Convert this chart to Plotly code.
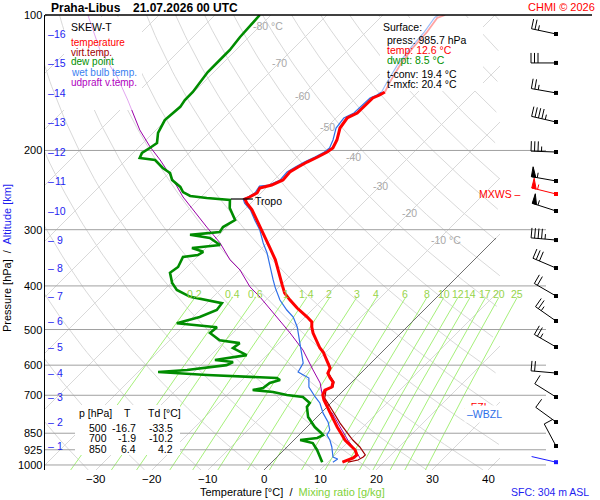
import numpy as np
import plotly.graph_objects as go

FONT = "Liberation Sans, Arial, sans-serif"

# --- sounding Praha-Libus 21.07.2026 00 UTC ---
temp_p = [985.7, 965, 950, 926, 903, 880, 858, 823.5, 782, 743, 717, 699, 681.5, 671, 654, 641,
          625, 609, 593.5, 584.5, 561, 549.6, 533, 509, 493.6, 481, 469, 448, 430, 415, 398, 382,
          350, 328, 305, 285.5, 271, 262, 256.4, 253.8, 248.6, 242.4, 238.7, 232.6, 223.3, 217.7,
          212.2, 206.8, 201.6, 197.5, 189.6, 178.3, 169.4, 165.1, 158.5, 152.9, 150.6, 148.3,
          140.9, 129.2, 118.4, 109.1, 101.5, 100]
temp_t = [12.6, 13.8, 13.9, 12.7, 10.9, 9.1, 7.7, 5.4, 2.7, 0.0, -1.8, -2.9, -3.4, -2.7, -3.4, -4.6,
          -5.9, -6.4, -7.7, -8.4, -10.5, -11.8, -13.4, -15.7, -17.0, -17.9, -19.6, -23.0, -25.7, -27.9,
          -29.8, -31.6, -35.5, -38.8, -42.5, -45.9, -48.6, -50.7, -51.8, -51.3, -50.7, -51.1, -49.5,
          -48.4, -48.6, -48.0, -47.3, -46.3, -45.5, -45.2, -45.9, -47.5, -48.0, -47.1, -47.1, -47.0,
          -46.3, -45.9, -46.8, -48.0, -48.8, -49.1, -49.8, -48.9]

dwpt_p = [985.7, 960, 926, 894, 880, 871, 858, 849, 823.5, 782, 743, 728, 706, 699, 688.5, 681.5,
          674.5, 657.5, 647.5, 641, 631, 621.5, 615, 600, 590.5, 584.5, 570, 550, 536, 528, 509, 494,
          489, 484, 469, 452.5, 437, 430, 423, 408.5, 394, 374, 363, 345, 341.5, 336, 329.5, 324.5,
          313, 308, 303.5, 296, 285.5, 268.5, 257.7, 255, 252.5, 247.4, 241, 232.6, 224.5, 218.8,
          210, 207.9, 202.6, 197.5, 192.5, 182.9, 177.4, 171.2, 160, 154.5, 148.3, 133.9, 124,
          119.6, 111.9, 106.9, 100]
dwpt_t = [9.0, 7.7, 5.9, 3.9, 1.1, 3.8, 4.3, 3.6, 1.4, -1.6, -3.6, -3.8, -6.1, -9.3, -12.3, -16.3,
          -14.8, -14.5, -13.2, -14.1, -27.1, -36.4, -31.6, -25.4, -24.8, -28.4, -23.6, -27.3, -27.0,
          -31.1, -34.1, -33.9, -37.3, -41.8, -38.8, -37.0, -37.3, -40.5, -44.1, -47.7, -49.8, -52.0,
          -51.6, -52.5, -50.2, -49.8, -52.5, -48.0, -51.1, -55.2, -50.4, -50.7, -49.8, -52.9, -54.3,
          -58.8, -62.1, -64.1, -65.5, -68.2, -69.8, -72.0, -74.8, -77.9, -78.4, -77.9, -77.5, -79.1,
          -79.6, -80.2, -79.8, -80.2, -80.2, -81.1, -81.1, -81.1, -81.6, -81.8, -82.0]

wetb_p = [985.7, 970, 960, 912, 880, 858, 836, 803, 767, 728, 706, 671, 641, 621.5, 593.5, 565,
          527.6, 493.6, 469, 452.5, 430, 404, 388, 363, 338, 321, 300.5, 285.5, 271, 262, 256.4,
          253.8, 248.6, 240, 238.7, 232.6, 223.3, 217.7, 212.2, 206.8, 201.6, 197.5, 189.6, 178.3,
          169.4, 165.1, 158.5, 152.9, 150.6, 148.3, 140.9, 129.2, 118.4, 109.1, 101.5, 100]
wetb_t = [10.9, 11.2, 10.0, 8.0, 6.4, 5.0, 4.6, 2.9, 0.4, -2.0, -3.9, -6.8, -8.4, -11.4, -12.1, -14.1,
          -16.8, -19.6, -22.1, -24.5, -27.5, -30.5, -32.3, -35.2, -38.2, -40.7, -43.6, -46.3, -48.9,
          -51.1, -52.1, -51.6, -51.1, -51.5, -50.0, -48.9, -49.1, -48.5, -47.8, -46.8, -46.0, -45.8,
          -46.6, -48.2, -48.6, -47.7, -47.6, -47.5, -46.8, -46.5, -47.3, -48.5, -49.2, -49.6, -50.3,
          -50.2]

virt_p = [985.7, 975, 960, 950, 912, 880, 845, 807, 774.5, 743, 710, 681.5, 671, 654, 641, 625,
          609, 593.5]
virt_t = [13.6, 15.0, 15.4, 15.4, 13.0, 10.5, 8.0, 5.2, 2.9, 0.5, -2.0, -3.2, -2.5, -3.2, -4.4,
          -5.8, -6.3, -7.6]

parcel_p = [965, 926, 880, 836, 803, 766.6, 747, 717, 692, 657.5, 615, 555, 509, 469, 423.4, 402,
            368.7, 350, 321, 296, 276, 253.8, 232.6, 210, 196.5, 180.1, 162.6, 154.5, 137.3,
            119.6, 100]
parcel_t = [15.0, 12.7, 9.6, 6.8, 4.5, 2.0, 0.2, -1.6, -3.4, -5.5, -9.1, -14.5, -19.8, -25.0,
            -31.6, -35.2, -40.0, -43.6, -48.4, -53.6, -57.9, -63.2, -68.0, -73.9, -78.0, -82.9,
            -87.9, -90.4, -96.4, -104.3, -112.7]

# heights 1..16 km and the wind there
alt_km = list(range(1, 17))
alt_p = [907.5, 802.7, 706.3, 624.7, 546.7, 478.7, 421.2, 365.0, 316.3, 272.6, 233.8, 201.6,
         172.9, 149.0, 127.8, 110.2]
wind_dir = [332, 306, 302, 275, 300, 305, 300, 293, 275, 288, 280, 272, 283, 280, 270, 282]
wind_kt = [10, 10, 10, 20, 25, 25, 20, 30, 45, 55, 55, 35, 45, 25, 30, 25]
mxws_p, mxws_dir, mxws_kt = 249.9, 284, 55
sfc_p, sfc_dir, sfc_kt = 985.7, 283, 2

tropo_p, tropo_t = 256.4, -51.8
fzl_p, wbzl_p = 743.0, 766.6
upper_p = 148.3          # above this the temperature is drawn faint
parcel_faint_p = 162.6

table_p = [500, 700, 850]
table_t = [-16.7, -1.9, 6.4]
table_td = [-33.5, -10.2, 4.2]

p_ticks = [100, 200, 300, 400, 500, 600, 700, 850, 925, 1000]
t_ticks = [-30, -20, -10, 0, 10, 20, 30, 40]
mix_w = [0.2, 0.4, 0.6, 1, 1.4, 2, 3, 4, 6, 8, 10, 12, 14, 17, 20, 25]
iso_label_t = [-80, -70, -60, -50, -40, -30, -20, -10]
iso_label_p = [106, 128, 151, 177, 207, 240, 275, 316]

# --- diagram geometry ---
P_BOT, P_TOP = 1026.0, 100.0
PX_DEG = 5.6
PX_LN = 195.42
SKEW = PX_LN / PX_DEG
X_LEFT, X_RIGHT = -219 / PX_DEG, 331 / PX_DEG


def skew(t, p):
    return np.asarray(t, float) + SKEW * np.log(P_BOT / np.asarray(p, float))


def X_px(x):
    return (x - 264) / PX_DEG


def px_X(X):
    return 264 + PX_DEG * X


def py_p(p):
    return 15 + PX_LN * np.log(p / P_TOP)


def paper(x, y):
    return (x - 45) / 550, (470 - y) / 455


X_CLIP = X_px(500)
GRID = "#d9d9d9"

fig = go.Figure()


def line(x, y, color, width=1, **kw):
    fig.add_trace(go.Scatter(x=x, y=y, mode="lines", line=dict(color=color, width=width),
                             hoverinfo="skip", connectgaps=False, **kw))


# isotherms
xs, ys = [], []
for t in range(-120, 50, 10):
    if t > X_CLIP:
        continue
    top = t + SKEW * np.log(P_BOT / P_TOP)
    p_end = P_TOP if top <= X_CLIP else P_BOT * np.exp(-(X_CLIP - t) / SKEW)
    xs += [t, float(skew(t, p_end)), None]
    ys += [P_BOT, p_end, None]
line(xs, ys, GRID)

# dry adiabats
pp = np.geomspace(P_BOT, P_TOP, 90)
xs, ys = [], []
for th in range(220, 470, 10):
    X = skew(th * (pp / 1000.0) ** 0.2857 - 273.15, pp)
    ok = X <= X_CLIP
    xs += list(X[ok]) + [None]
    ys += list(pp[ok]) + [None]
line(xs, ys, GRID)


def mix_td(w, p):
    e = w * p / (622.0 + w)
    a = np.log(e / 6.112)
    return 243.5 * a / (17.67 - a)


pm = np.geomspace(P_BOT, 425, 25)
xs, ys = [], []
for w in mix_w:
    xs += list(skew(mix_td(w, pm), pm)) + [None]
    ys += list(pm) + [None]
line(xs, ys, "#a6f07a")

# pressure levels
xs, ys = [], []
for p in p_ticks[1:]:
    xs += [X_LEFT, X_px(546), None]
    ys += [p, p, None]
line(xs, ys, "#a0a0a0")

# 0 degC isotherm
p0 = P_BOT * np.exp(-(X_px(496)) / SKEW)
line([0, float(skew(0, p0))], [P_BOT, p0], "#707070")


def box(x0, y0, x1, y1):
    bx = [X_px(x0), X_px(x1), X_px(x1), X_px(x0), X_px(x0)]
    by = [P_TOP * np.exp((y - 15) / PX_LN) for y in (y0, y0, y1, y1, y0)]
    fig.add_trace(go.Scatter(x=bx, y=by, mode="lines", fill="toself", fillcolor="white",
                             line=dict(width=0, color="white"), hoverinfo="skip"))


box(64, 17, 142, 110)
box(380, 18, 483, 91)
box(75, 405, 180, 455)

# profiles
pa, ta = np.array(parcel_p), np.array(parcel_t)
lo = pa >= parcel_faint_p
line(skew(ta[lo], pa[lo]), pa[lo], "#9a00a8")
line(skew(ta[pa <= parcel_faint_p], pa[pa <= parcel_faint_p]), pa[pa <= parcel_faint_p], "#e2a6f0")

line(skew(dwpt_t, dwpt_p), dwpt_p, "#008c00", 2.6)

wa, wt = np.array(wetb_p), np.array(wetb_t)
line(skew(wt[wa >= upper_p], wa[wa >= upper_p]), wa[wa >= upper_p], "#2f6fe8", 1.2)
line(skew(wt[wa <= upper_p], wa[wa <= upper_p]), wa[wa <= upper_p], "#9dbdf8", 1.2)

line(skew(virt_t, virt_p), virt_p, "#a00000", 1.2)

tp, tt = np.array(temp_p), np.array(temp_t)
line(skew(tt[tp >= upper_p], tp[tp >= upper_p]), tp[tp >= upper_p], "#ff0000", 3)
line(skew(tt[tp <= upper_p], tp[tp <= upper_p]), tp[tp <= upper_p], "#ffa3a3", 1.8)

# tropopause mark
xt = float(skew(tropo_t, tropo_p))
line([xt - 14 / PX_DEG, xt + 8 / PX_DEG], [tropo_p, tropo_p], "black", 1.2)

# wind barbs
BARB_X = 556


def barb(p0, d, kt):
    r = np.radians(d)
    u = np.array([np.sin(r), np.cos(r)])
    v = np.array([np.cos(r), -np.sin(r)])
    n5 = int(round(kt / 5.0))
    flags, rest = divmod(n5, 10)
    full, half = divmod(rest, 2)
    segs = [(np.zeros(2), 25 * u)]
    tris = []
    s = 25.0
    for _ in range(flags):
        tris.append([s * u, s * u + 10 * v, (s - 4.5) * u, s * u])
        s -= 6.0
    for _ in range(full):
        segs.append((s * u, s * u + 10 * v))
        s -= 3.5
    if half:
        segs.append((s * u, s * u + 5 * v))

    def conv(pts):
        return ([X_px(BARB_X + q[0]) for q in pts] + [None],
                [p0 * np.exp(-q[1] / PX_LN) for q in pts] + [None])
    lx, ly, fx, fy = [], [], [], []
    for sgm in segs:
        a, b = conv(sgm)
        lx += a
        ly += b
    for tr in tris:
        a, b = conv(tr)
        fx += a
        fy += b
    return lx, ly, fx, fy


def draw_barbs(ps, ds, ks, color):
    LX, LY, FX, FY = [], [], [], []
    for p, d, k in zip(ps, ds, ks):
        lx, ly, fx, fy = barb(p, d, k)
        LX += lx
        LY += ly
        FX += fx
        FY += fy
    line(LX, LY, color, 1)
    if FX:
        fig.add_trace(go.Scatter(x=FX, y=FY, mode="lines", fill="toself", fillcolor=color,
                                 line=dict(color=color, width=1), hoverinfo="skip"))
    fig.add_trace(go.Scatter(x=[X_px(BARB_X)] * len(ps), y=ps, mode="markers",
                             marker=dict(symbol="square", size=4, color=color), hoverinfo="skip"))


draw_barbs(alt_p, wind_dir, wind_kt, "black")
draw_barbs([mxws_p], [mxws_dir], [mxws_kt], "#ff0000")
draw_barbs([sfc_p], [sfc_dir], [sfc_kt], "#1a1aff")

# --- texts ---
ann = []


def text(x, y, s, color="black", size=10.5, anchor="left", **kw):
    px, py = paper(x, y)
    kw.setdefault("borderpad", 0)
    ann.append(dict(x=px, y=py, xref="paper", yref="paper", text=s, showarrow=False,
                    xanchor=anchor, yanchor="middle", font=dict(family=FONT, size=size, color=color),
                    **kw))


text(50, 8, "<b>Praha-Libus</b>", size=12)
text(132, 8, "<b>21.07.2026 00 UTC</b>", size=12)
text(596, 7, "CHMI © 2026", "#ff0000", 11, "right")

text(70, 27, "SKEW-T", size=10.5)
for i, (s, c) in enumerate([("temperature", "#ff0000"), ("virt.temp.", "#a00000"),
                            ("dew point", "#009000"), ("wet bulb temp.", "#3a7ff0"),
                            ("udpraft v.temp.", "#b000c0")]):
    text(70, 42 + 10 * i, s, c, 10)

text(382, 27, "Surface:")
text(386, 40, f"press: {sfc_p} hPa")
text(386, 50, f"temp: {temp_t[0]} °C", "#ff0000")
text(386, 60, "dwpt: 8.5 °C", "#009000")
text(386, 74, "t-conv: 19.4 °C")
text(386, 84, "t-mxfc: 20.4 °C")

text(78, 413, "p [hPa]")
text(127, 413, "T", anchor="center")
text(147, 413, "Td [°C]")
for i in range(3):
    yy = 428 + 10.3 * i
    text(108, yy, str(table_p[i]), anchor="right")
    text(137, yy, f"{table_t[i]:.1f}", anchor="right")
    text(174, yy, f"{table_td[i]:.1f}", anchor="right")

for t, p in zip(iso_label_t, iso_label_p):
    s = f"{t} °C" if t in (-80, -10) else str(t)
    text(px_X(float(skew(t, p))) - 8, py_p(p), s, "#a8a8a8", 10.5)

for w in mix_w:
    xw = px_X(float(skew(mix_td(w, 425.0), 425.0)))
    text(xw, 294, f"{w:g}", "#97d44a", 10.5, "center")

for k, p in zip(alt_km, alt_p):
    text(47, py_p(p), "–", "#1e1ef0", 10.5)
    text(60, py_p(p), str(k), "#1e1ef0", 10.5, "center")

text(254, py_p(tropo_p) + 2, "Tropo")
text(522, py_p(mxws_p), "MXWS –", "#ff0000", 10.5, "right")
text(464, py_p(fzl_p), "–FZL", "#ff0000", 10.5)
text(464, py_p(wbzl_p) + 1, "–WBZL", "#2f6fe8", 10.5, bgcolor="white", borderpad=2)

for t in t_ticks:
    text(px_X(t), 479, str(t).replace("-", "−"), size=11.5, anchor="center")
for p in p_ticks:
    text(43, py_p(p), str(p), size=11, anchor="right")

text(292, 492, "Temperature [°C]  /  <span style='color:#7fd23a'>Mixing ratio [g/kg]</span>",
     size=11, anchor="center")
text(7, 258, "Pressure [hPa]  /  <span style='color:#1e1ef0'>Altitude [km]</span>",
     size=11, anchor="center", textangle=-90)
text(550, 492, "SFC: 304 m ASL", "#1e1ef0", 10.5, "center")

fig.update_layout(
    width=600, height=500, margin=dict(l=45, r=5, t=15, b=30),
    paper_bgcolor="white", plot_bgcolor="white", showlegend=False,
    xaxis=dict(range=[X_LEFT, X_RIGHT], showticklabels=False, showgrid=False, zeroline=False,
               showline=False, ticks="", fixedrange=True),
    yaxis=dict(type="log", range=[np.log10(P_BOT), np.log10(P_TOP)], showticklabels=False,
               showgrid=False, zeroline=False, showline=True, linecolor="black", linewidth=1,
               ticks="", fixedrange=True),
    annotations=ann,
    shapes=[dict(type="line", xref="paper", yref="paper", x0=0, x1=(592 - 45) / 550, y0=1, y1=1,
                 line=dict(color="black", width=1.5))],
)

# page body margin off so the 600x500 figure fills the window
fig.write_html("out.html", config={"displayModeBar": False},
               post_script="document.body.style.margin='0';")
